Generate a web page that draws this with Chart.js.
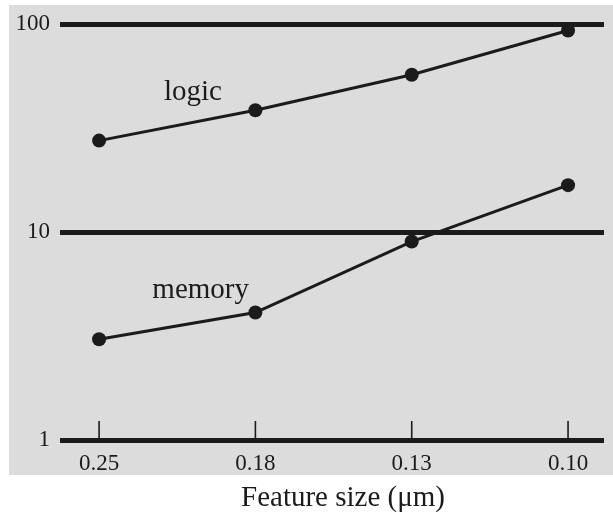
<!DOCTYPE html>
<html>
<head>
<meta charset="utf-8">
<script src="https://cdn.jsdelivr.net/npm/chart.js@4/dist/chart.umd.min.js"></script>
<style>
  html, body { margin: 0; padding: 0; background: #fff; }
  #wrap { width: 613px; height: 521px; }
</style>
</head>
<body>
<div id="wrap"><canvas id="chart" width="613" height="521"></canvas></div>
<script>
var featureSizes = ["0.25", "0.18", "0.13", "0.10"];
var logicValues = [27.5, 38.5, 57, 93];
var memoryValues = [3.05, 4.1, 9.0, 16.8];
var yTickValues = [1, 10, 100];
var seriesNames = ["logic", "memory"];
var axisTitle = "Feature size (\u03bcm)";
// where the series names sit, in data units (x index, y value)
var nameAnchors = [[0.6, 43], [0.65, 4.8]];

var ink = "#1b1b1b";
var panel = "#dcdcdd";
var serif = "'Liberation Serif', 'DejaVu Serif', serif";

function toPoints(values) {
	var pts = [];
	for (var i = 0; i < values.length; i++) {
		pts.push({ x: i, y: values[i] });
	}
	return pts;
}

var panelPlugin = {
	id: "panel",
	beforeDraw: function(chart) {
		var ctx = chart.ctx;
		var a = chart.chartArea;
		ctx.save();
		ctx.fillStyle = panel;
		ctx.fillRect(a.left - 51, a.top - 19, chart.width - (a.left - 51), a.bottom + 35 - (a.top - 19));
		ctx.restore();
	},
	afterDatasetsDraw: function(chart) {
		var ctx = chart.ctx;
		var a = chart.chartArea;
		var x = chart.scales.x;
		var y = chart.scales.y;
		ctx.save();
		// short upward tick marks on the bottom axis
		ctx.strokeStyle = ink;
		ctx.lineWidth = 1.6;
		for (var i = 0; i < featureSizes.length; i++) {
			var px = x.getPixelForValue(i);
			ctx.beginPath();
			ctx.moveTo(px, y.getPixelForValue(1));
			ctx.lineTo(px, y.getPixelForValue(1) - 19);
			ctx.stroke();
		}
		// series names
		ctx.fillStyle = ink;
		ctx.font = "29px " + serif;
		ctx.textAlign = "center";
		ctx.textBaseline = "alphabetic";
		for (var j = 0; j < seriesNames.length; j++) {
			ctx.fillText(seriesNames[j], x.getPixelForValue(nameAnchors[j][0]), y.getPixelForValue(nameAnchors[j][1]));
		}
		// axis title below the panel
		ctx.textBaseline = "middle";
		ctx.fillText(axisTitle, (a.left + a.right) / 2 + 11, a.bottom + 58);
		ctx.restore();
	}
};

function lineSet(label, values) {
	return {
		label: label,
		data: toPoints(values),
		borderColor: ink,
		backgroundColor: ink,
		borderWidth: 3,
		pointRadius: 7,
		pointHoverRadius: 7,
		pointBorderWidth: 0,
		tension: 0
	};
}

new Chart(document.getElementById("chart"), {
	type: "line",
	data: {
		datasets: [lineSet("logic", logicValues), lineSet("memory", memoryValues)]
	},
	plugins: [panelPlugin],
	options: {
		responsive: false,
		animation: false,
		layout: { padding: { left: 0, right: 9, top: 24, bottom: 0 } },
		plugins: { legend: { display: false }, tooltip: { enabled: false } },
		scales: {
			x: {
				type: "linear",
				min: -0.25,
				max: 3.23,
				border: { display: false },
				grid: { display: false, drawTicks: false },
				afterBuildTicks: function(scale) {
					scale.ticks = featureSizes.map(function(s, i) { return { value: i }; });
				},
				afterFit: function(scale) { scale.height = 81; },
				ticks: {
					padding: 10,
					color: ink,
					font: { family: serif, size: 23 },
					callback: function(v) { return featureSizes[v]; }
				}
			},
			y: {
				type: "logarithmic",
				min: 1,
				max: 100,
				border: { display: false },
				grid: { color: ink, lineWidth: 5, drawTicks: false },
				afterBuildTicks: function(scale) {
					scale.ticks = yTickValues.map(function(v) { return { value: v }; });
				},
				afterFit: function(scale) { scale.width = 60; },
				ticks: {
					padding: 10,
					color: ink,
					font: { family: serif, size: 23 },
					callback: function(v) { return String(v); }
				}
			}
		}
	}
});
</script>
</body>
</html>
